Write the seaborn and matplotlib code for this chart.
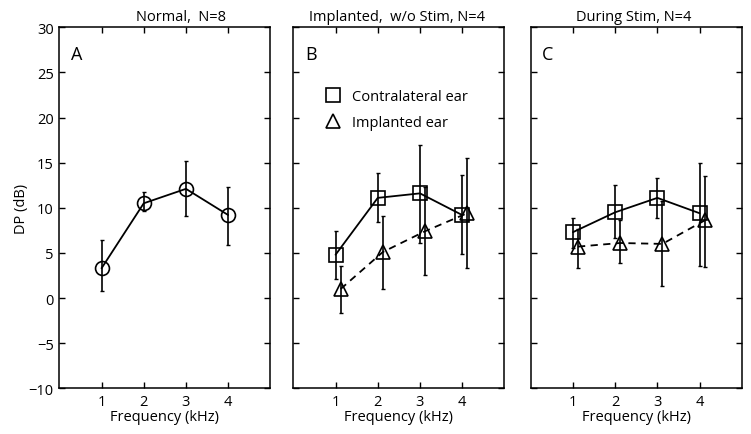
import pandas as pd
import seaborn as sns
import matplotlib.pyplot as plt
from matplotlib.lines import Line2D

# Data (DP in dB, mean with error bar bounds)
freqs = [1, 2, 3, 4]
offset = 0.12  # implanted-ear points are nudged right

normal_mean = [3.3, 10.5, 12.1, 9.2]
normal_lo = [0.8, 9.6, 9.1, 5.9]
normal_hi = [6.4, 11.8, 15.2, 12.3]

b_contra_mean = [4.8, 11.1, 11.6, 9.2]
b_contra_lo = [2.1, 8.4, 6.1, 4.9]
b_contra_hi = [7.4, 13.9, 17.0, 13.6]

b_impl_mean = [1.0, 5.1, 7.4, 9.4]
b_impl_lo = [-1.6, 1.0, 2.5, 3.3]
b_impl_hi = [3.6, 9.1, 12.3, 15.5]

c_contra_mean = [7.3, 9.5, 11.1, 9.4]
c_contra_lo = [5.6, 6.6, 8.9, 3.5]
c_contra_hi = [8.9, 12.5, 13.3, 15.0]

c_impl_mean = [5.7, 6.1, 6.0, 8.6]
c_impl_lo = [3.3, 3.9, 1.3, 3.4]
c_impl_hi = [7.7, 8.6, 10.7, 13.5]

titles = ["Normal,  N=8", "Implanted,  w/o Stim, N=4", "During Stim, N=4"]
title_x = [0.577, 0.49, 0.49]
letters = ["A", "B", "C"]

sns.set_theme(style="ticks")
plt.rcParams['font.family'] = ['Open Sans', 'DejaVu Sans']
plt.rcParams['text.color'] = 'black'
plt.rcParams['axes.labelcolor'] = 'black'

markers = {"Normal": "o", "Contralateral ear": "s", "Implanted ear": "^"}
dashes = {"Normal": "", "Contralateral ear": "", "Implanted ear": (4, 3)}


def make_df(groups):
    rows = []
    for name, xs, mean, lo, hi in groups:
        for x, m, l, h in zip(xs, mean, lo, hi):
            rows.append({"freq": x, "dp": m, "lo": l, "hi": h, "ear": name})
    return pd.DataFrame(rows)


shifted = [f + offset for f in freqs]
panels = [
    make_df([("Normal", freqs, normal_mean, normal_lo, normal_hi)]),
    make_df([("Contralateral ear", freqs, b_contra_mean, b_contra_lo, b_contra_hi),
             ("Implanted ear", shifted, b_impl_mean, b_impl_lo, b_impl_hi)]),
    make_df([("Contralateral ear", freqs, c_contra_mean, c_contra_lo, c_contra_hi),
             ("Implanted ear", shifted, c_impl_mean, c_impl_lo, c_impl_hi)]),
]

fig = plt.figure(figsize=(7.51, 4.35), dpi=100)
lefts = [0.079, 0.3906, 0.7067]

for i, df in enumerate(panels):
    ax = fig.add_axes([lefts[i], 0.105, 0.281, 0.830])
    levels = list(df["ear"].unique())
    sns.lineplot(data=df, x="freq", y="dp", style="ear", style_order=levels,
                 markers={k: markers[k] for k in levels},
                 dashes={k: dashes[k] for k in levels},
                 color="black", linewidth=1.3, markersize=10,
                 markerfacecolor="none", markeredgecolor="black",
                 markeredgewidth=1.2, legend=False, ax=ax, sort=False)
    for name, g in df.groupby("ear"):
        ax.errorbar(g["freq"], g["dp"],
                    yerr=[g["dp"] - g["lo"], g["hi"] - g["dp"]],
                    fmt="none", ecolor="black", elinewidth=1.2, capsize=1.5)

    ax.set_xlim(0, 5)
    ax.set_ylim(-10, 30)
    ax.set_xticks(freqs)
    ax.set_yticks(range(-10, 31, 5))
    ax.tick_params(direction="in", top=True, right=True, length=4, width=1,
                   labelsize=10.5, colors="black", pad=4)
    if i > 0:
        ax.tick_params(labelleft=False)
    for sp in ax.spines.values():
        sp.set_color("black")
        sp.set_linewidth(1.1)
    ax.set_title(titles[i], fontsize=10.5, pad=5, x=title_x[i])
    ax.set_xlabel("Frequency (kHz)", fontsize=10.5, labelpad=0)
    ax.set_ylabel("DP (dB)" if i == 0 else "", fontsize=10.5, labelpad=0)
    ax.text(0.055, 0.925, letters[i], transform=ax.transAxes,
            fontsize=13, va="center", ha="left")

    if i == 1:
        handles = [Line2D([], [], linestyle="none", marker="s", markersize=10,
                          markerfacecolor="none", markeredgecolor="black",
                          markeredgewidth=1.2),
                   Line2D([], [], linestyle="none", marker="^", markersize=10,
                          markerfacecolor="none", markeredgecolor="black",
                          markeredgewidth=1.2)]
        ax.legend(handles, ["Contralateral ear", "Implanted ear"],
                  loc="upper left", bbox_to_anchor=(0.085, 0.85),
                  frameon=False, fontsize=10.5, handletextpad=0.3,
                  labelspacing=0.75, borderpad=0)

fig.savefig("out.png", dpi=100)
